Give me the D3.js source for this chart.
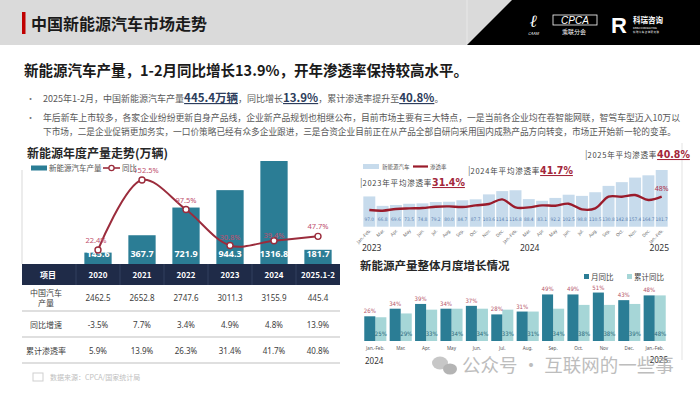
<!DOCTYPE html>
<html>
<head>
<meta charset="utf-8">
<script src="https://cdn.jsdelivr.net/npm/d3@7"></script>
<style>
body{margin:0;background:#fff;}
svg{display:block;font-family:"Noto Sans CJK SC","Noto Sans",sans-serif;}
</style>
</head>
<body>
<script>
// ---- data ----
var annualYears = ["2020", "2021", "2022", "2023", "2024", "2025.1-2"];
var annualOutput = [145.6, 367.7, 721.9, 944.3, 1316.8, 181.7];
var annualGrowth = [22.4, 152.5, 97.5, 30.8, 39.4, 47.7];

var tableRowNames = ["中国汽车产量", "同比增速", "累计渗透率"];
var carOutput = ["2462.5", "2652.8", "2747.6", "3011.3", "3155.9", "445.4"];
var carGrowth = ["-3.5%", "7.7%", "3.4%", "4.9%", "4.8%", "13.9%"];
var carPenetration = ["5.9%", "13.9%", "26.3%", "31.4%", "41.7%", "40.8%"];

var monthNames = ["Jan.-Feb.", "Mar.", "Apr.", "May", "Jun.", "Jul.", "Aug.", "Sep.", "Oct.", "Nov.", "Dec.",
                  "Jan.-Feb.", "Mar.", "Apr.", "May", "Jun.", "Jul.", "Aug.", "Sep.", "Oct.", "Nov.", "Dec.",
                  "Jan.-Feb."];
var monthlyNev = [97.0, 66.8, 69.6, 73.5, 74.8, 79.2, 80.0, 84.7, 87.7, 103.6, 114.1,
                  116.8, 88.4, 83.1, 92.2, 102.5, 98.8, 110.5, 130.8, 142.8, 157.4, 164.7,
                  181.7];
var monthlyPenetration = [26.7, 25.6, 28.3, 29.3, 29.9, 32.0, 32.5, 31.5, 34.1, 36.3, 43.7,
                          30.9, 30.9, 34.1, 33.6, 36.8, 27.7, 29.3, 48.0, 48.0, 50.7, 42.7,
                          48.0];
var avgNotes = [["2023年平均渗透率", "31.4%"], ["2024年平均渗透率", "41.7%"], ["2025年平均渗透率", "40.8%"]];

var growthMonths = ["Jan.-Feb.", "Mar.", "Apr.", "May", "Jun.", "Jul.", "Aug.", "Sep.", "Oct.", "Nov", "Dec.", "Jan.-Feb."];
var monthYoy = [26, 34, 39, 34, 37, 28, 31, 49, 49, 51, 43, 48];
var cumYoy = [25, 29, 33, 34, 34, 33, 31, 34, 38, 38, 39, 48];

var svg = d3.select("body").append("svg")
    .attr("width", 700)
    .attr("height", 394);

// ---- header ----
svg.append("rect").attr("x", 0).attr("y", 0).attr("width", 700).attr("height", 45).attr("fill", "#dadada");
svg.append("line").attr("x1", 467).attr("x2", 467).attr("y1", 0).attr("y2", 45).attr("stroke", "#e8e8e8");
svg.append("polygon").attr("points", "512,0 700,0 700,45 467,45").attr("fill", "#000");
svg.append("rect").attr("x", 22).attr("y", 12).attr("width", 3.5).attr("height", 22).attr("fill", "#c00000");
svg.append("text").attr("x", 31).attr("y", 30)
    .attr("font-size", "16px").attr("font-weight", "bold").attr("fill", "#1a1a1a")
    .text("中国新能源汽车市场走势");

// logos
var logo = svg.append("g").attr("fill", "#fff");
logo.append("text").attr("x", 530).attr("y", 27).attr("font-size", "17px").attr("font-style", "italic")
    .attr("font-weight", "bold").attr("font-family", "DejaVu Serif").text("ℓ");
logo.append("text").attr("x", 528).attr("y", 35).attr("font-size", "4px").attr("font-style", "italic").text("CAAM");
logo.append("rect").attr("x", 553).attr("y", 15).attr("width", 44).attr("height", 10).attr("fill", "none")
    .attr("stroke", "#fff").attr("stroke-width", 0.8);
logo.append("text").attr("x", 575).attr("y", 24).attr("text-anchor", "middle").attr("font-size", "10px")
    .attr("font-style", "italic").attr("font-family", "Liberation Sans").text("CPCA");
logo.append("text").attr("x", 574).attr("y", 34).attr("text-anchor", "middle").attr("font-size", "6px").text("乘联分会");
logo.append("text").attr("x", 611).attr("y", 33).attr("font-size", "22px").attr("font-weight", "bold")
    .attr("font-family", "Liberation Sans").text("R");
logo.append("text").attr("x", 633).attr("y", 23).attr("font-size", "7.5px").attr("font-weight", "bold").text("科瑞咨询");
logo.append("text").attr("x", 633).attr("y", 29).attr("font-size", "2.6px").text("KERUI CONSULTING");
logo.append("text").attr("x", 633).attr("y", 32.5).attr("font-size", "2.4px").text("科 瑞 汽 车 咨 询 研 究 院");

// ---- headline + bullets ----
svg.append("text").attr("x", 24).attr("y", 76)
    .attr("font-size", "15px").attr("font-weight", "bold").attr("fill", "#1a1a1a")
    .attr("textLength", 444).attr("lengthAdjust", "spacingAndGlyphs")
    .text("新能源汽车产量，1-2月同比增长13.9%，开年渗透率保持较高水平。");

svg.selectAll(".bdot").data([102, 121]).enter().append("text")
    .attr("x", 26).attr("y", function(d) { return d; })
    .attr("font-size", "9px").attr("fill", "#777").text("•");

var b1 = svg.append("text").attr("x", 43).attr("y", 102).attr("font-size", "9px").attr("fill", "#595959");
var b1parts = [["2025年1-2月，中国新能源汽车产量", false], ["445.4万辆", true], ["，同比增长", false],
               ["13.9%", true], ["，累计渗透率提升至", false], ["40.8%", true], ["。", false]];
b1parts.forEach(function(p) {
    var t = b1.append("tspan").text(p[0]);
    if (p[1]) {
        t.attr("font-size", "11.5px").attr("font-weight", "bold").attr("fill", "#2d3d5c")
         .attr("text-decoration", "underline");
    }
});

svg.append("text").attr("x", 43).attr("y", 121).attr("font-size", "9px").attr("fill", "#595959")
    .attr("textLength", 637).attr("lengthAdjust", "spacingAndGlyphs")
    .text("年后新车上市较多，各家企业纷纷更新自身产品线，企业新产品规划也相继公布，目前市场主要有三大特点，一是当前各企业均在卷智能网联，智驾车型迈入10万以");
svg.append("text").attr("x", 43).attr("y", 135).attr("font-size", "9px").attr("fill", "#595959")
    .attr("textLength", 633).attr("lengthAdjust", "spacingAndGlyphs")
    .text("下市场，二是企业促销更加务实，一口价策略已经有众多企业跟进，三是合资企业目前正在从产品全部自研向采用国内成熟产品方向转变，市场正开始新一轮的变革。");

// ---- left: annual chart ----
var teal = "#2b7d95";
var lineRed = "#9b2c3c";

svg.append("text").attr("x", 27).attr("y", 158)
    .attr("font-size", "12px").attr("font-weight", "bold").attr("fill", "#262626")
    .text("新能源年度产量走势(万辆)");
svg.append("line").attr("x1", 22).attr("x2", 22).attr("y1", 170).attr("y2", 264).attr("stroke", "#d9d9d9");

var xYear = d3.scaleBand().domain(annualYears).range([76, 340]).paddingInner(0.38).paddingOuter(0.19);
var yOut = d3.scaleLinear().domain([0, 1400]).range([264, 154.5]);
var yGrowth = d3.scaleLinear().domain([0, 160]).range([262, 175.9]);

var left = svg.append("g");
left.selectAll(".abar").data(annualOutput).enter().append("rect")
    .attr("x", function(d, i) { return xYear(annualYears[i]); })
    .attr("y", function(d) { return yOut(d); })
    .attr("width", xYear.bandwidth())
    .attr("height", function(d) { return yOut(0) - yOut(d); })
    .attr("fill", teal);
left.selectAll(".alab").data(annualOutput).enter().append("text")
    .attr("x", function(d, i) { return xYear(annualYears[i]) + xYear.bandwidth() / 2; })
    .attr("y", 257)
    .attr("text-anchor", "middle").attr("font-size", "9px").attr("font-weight", "bold")
    .attr("font-family", "Noto Sans").attr("fill", "#fff")
    .text(function(d) { return d.toFixed(1); });

var growthLine = d3.line()
    .x(function(d, i) { return xYear(annualYears[i]) + xYear.bandwidth() / 2; })
    .y(function(d) { return yGrowth(d); })
    .curve(d3.curveCatmullRom.alpha(0.5));
left.append("path").datum(annualGrowth).attr("d", growthLine)
    .attr("fill", "none").attr("stroke", lineRed).attr("stroke-width", 2);
left.selectAll(".gdot").data(annualGrowth).enter().append("circle")
    .attr("cx", function(d, i) { return xYear(annualYears[i]) + xYear.bandwidth() / 2; })
    .attr("cy", function(d) { return yGrowth(d); })
    .attr("r", 3).attr("fill", "#fff").attr("stroke", lineRed).attr("stroke-width", 1.4);
var gOff = [-7, -7, -7, -5, -3, -7];
var gDx = [-2, 4, 0, 0, 0, 0];
left.selectAll(".glab").data(annualGrowth).enter().append("text")
    .attr("x", function(d, i) { return xYear(annualYears[i]) + xYear.bandwidth() / 2 + gDx[i]; })
    .attr("y", function(d, i) { return yGrowth(d) + gOff[i]; })
    .attr("text-anchor", "middle").attr("font-size", "7.5px").attr("font-family", "Noto Sans")
    .attr("fill", "#c0506e")
    .text(function(d) { return d.toFixed(1) + "%"; });

// legend
svg.append("rect").attr("x", 31).attr("y", 165.5).attr("width", 16).attr("height", 5).attr("fill", teal);
svg.append("text").attr("x", 49).attr("y", 171).attr("font-size", "7.5px").attr("fill", "#555").text("新能源汽车产量");
svg.append("line").attr("x1", 103).attr("x2", 120).attr("y1", 168).attr("y2", 168).attr("stroke", lineRed).attr("stroke-width", 1.6);
svg.append("circle").attr("cx", 111.5).attr("cy", 168).attr("r", 2.6).attr("fill", "#fff").attr("stroke", lineRed).attr("stroke-width", 1.3);
svg.append("text").attr("x", 122).attr("y", 171).attr("font-size", "7.5px").attr("fill", "#555").text("同比");

// ---- table ----
var tbl = svg.append("g");
tbl.append("rect").attr("x", 22).attr("y", 264).attr("width", 318).attr("height", 21).attr("fill", "#1f2b48");
tbl.selectAll(".hsep").data(annualYears).enter().append("line")
    .attr("x1", function(d) { return xYear(d) - xYear.step() * 0.19; })
    .attr("x2", function(d) { return xYear(d) - xYear.step() * 0.19; })
    .attr("y1", 264).attr("y2", 285).attr("stroke", "#33415f");
tbl.append("text").attr("x", 48).attr("y", 278).attr("text-anchor", "middle")
    .attr("font-size", "8px").attr("font-weight", "bold").attr("fill", "#fff").text("项目");
tbl.selectAll(".hyear").data(annualYears).enter().append("text")
    .attr("x", function(d) { return xYear(d) + xYear.bandwidth() / 2; })
    .attr("y", 278).attr("text-anchor", "middle")
    .attr("font-size", "8px").attr("font-weight", "bold").attr("fill", "#fff")
    .text(function(d) { return d; });

var rowBase = [301, 328, 354];
var rowVals = [carOutput, carGrowth, carPenetration];
[311, 337, 363].forEach(function(y) {
    tbl.append("line").attr("x1", 22).attr("x2", 340).attr("y1", y).attr("y2", y).attr("stroke", "#bfbfbf");
});
tbl.append("text").attr("x", 46).attr("y", 296).attr("text-anchor", "middle").attr("font-size", "8px").attr("fill", "#404040").text("中国汽车");
tbl.append("text").attr("x", 46).attr("y", 306).attr("text-anchor", "middle").attr("font-size", "8px").attr("fill", "#404040").text("产量");
tbl.append("text").attr("x", 46).attr("y", rowBase[1]).attr("text-anchor", "middle").attr("font-size", "8px").attr("fill", "#404040").text(tableRowNames[1]);
tbl.append("text").attr("x", 46).attr("y", rowBase[2]).attr("text-anchor", "middle").attr("font-size", "8px").attr("fill", "#404040").text(tableRowNames[2]);
rowVals.forEach(function(vals, r) {
    tbl.selectAll(".cell" + r).data(vals).enter().append("text")
        .attr("x", function(d, i) { return xYear(annualYears[i]) + xYear.bandwidth() / 2; })
        .attr("y", rowBase[r]).attr("text-anchor", "middle")
        .attr("font-size", "8px").attr("font-family", "Noto Sans").attr("fill", "#404040")
        .text(function(d) { return d; });
});

svg.append("rect").attr("x", 33).attr("y", 373).attr("width", 10).attr("height", 8).attr("fill", "none").attr("stroke", "#cfcfcf");
svg.append("text").attr("x", 50).attr("y", 380).attr("font-size", "7px").attr("fill", "#c0c0c0").text("数据来源：CPCA/国家统计局");

// ---- right top: monthly output + penetration ----
svg.append("line").attr("x1", 682).attr("x2", 682).attr("y1", 143).attr("y2", 360).attr("stroke", "#e3e3e3");

var xMon = d3.scaleBand().domain(d3.range(monthlyNev.length)).range([362, 669]).padding(0.1);
var yNev = d3.scaleLinear().domain([0, 200]).range([226.7, 164.3]);
var yPen = d3.scaleLinear().domain([0, 100]).range([226.7, 164.2]);

var rt = svg.append("g");
rt.selectAll(".mbar").data(monthlyNev).enter().append("rect")
    .attr("x", function(d, i) { return xMon(i); })
    .attr("y", function(d) { return yNev(d); })
    .attr("width", xMon.bandwidth())
    .attr("height", function(d) { return yNev(0) - yNev(d); })
    .attr("fill", "#c7dbec");
rt.selectAll(".mlab").data(monthlyNev).enter().append("text")
    .attr("x", function(d, i) { return xMon(i) + xMon.bandwidth() / 2; })
    .attr("y", 221).attr("text-anchor", "middle")
    .attr("font-size", "4.8px").attr("font-family", "DejaVu Sans Condensed").attr("fill", "#5a80b0")
    .text(function(d) { return d.toFixed(1); });
var penLine = d3.line()
    .x(function(d, i) { return xMon(i) + xMon.bandwidth() / 2; })
    .y(function(d) { return yPen(d); })
    .curve(d3.curveCatmullRom.alpha(0.5));
rt.append("path").datum(monthlyPenetration).attr("d", penLine)
    .attr("fill", "none").attr("stroke", "#9a1b2b").attr("stroke-width", 2.4);
rt.selectAll(".mx").data(monthNames).enter().append("text")
    .attr("transform", function(d, i) {
        return "translate(" + (xMon(i) + xMon.bandwidth() / 2 + 2) + ",231)rotate(-45)";
    })
    .attr("text-anchor", "end").attr("font-size", "4.5px").attr("font-family", "Noto Sans").attr("fill", "#666")
    .text(function(d) { return d; });
rt.append("text").attr("x", 362).attr("y", 251).attr("font-size", "8.5px").attr("font-family", "Noto Sans").attr("fill", "#333").text("2023");
rt.append("text").attr("x", 520).attr("y", 251).attr("font-size", "8.5px").attr("font-family", "Noto Sans").attr("fill", "#333").text("2024");
rt.append("text").attr("x", 669).attr("y", 251).attr("text-anchor", "end").attr("font-size", "8.5px").attr("font-family", "Noto Sans").attr("fill", "#333").text("2025");
rt.append("text")
    .attr("x", xMon(monthlyPenetration.length - 1) + xMon.bandwidth() / 2)
    .attr("y", yPen(monthlyPenetration[monthlyPenetration.length - 1]) - 6)
    .attr("text-anchor", "middle").attr("font-size", "7px").attr("font-family", "Noto Sans").attr("fill", "#b0304a")
    .text(monthlyPenetration[monthlyPenetration.length - 1].toFixed(0) + "%");

// legend
rt.append("rect").attr("x", 363).attr("y", 164).attr("width", 16).attr("height", 5).attr("fill", "#c7dbec");
rt.append("text").attr("x", 382).attr("y", 168.5).attr("font-size", "5.5px").attr("fill", "#555").text("新能源汽车");
rt.append("line").attr("x1", 413).attr("x2", 428).attr("y1", 166.5).attr("y2", 166.5).attr("stroke", "#9a1b2b").attr("stroke-width", 2.2);
rt.append("text").attr("x", 430).attr("y", 168.5).attr("font-size", "5.5px").attr("fill", "#555").text("渗透率");

// average notes
var notePos = [[360, 186], [468, 174], [585, 158]];
avgNotes.forEach(function(n, i) {
    var t = rt.append("text").attr("x", notePos[i][0]).attr("y", notePos[i][1])
        .attr("font-size", "7.5px").attr("fill", "#444");
    t.append("tspan").attr("font-size", "9px").attr("fill", "#666").text("|");
    t.append("tspan").attr("letter-spacing", "0.8px").text(n[0]);
    t.append("tspan").attr("font-size", "10.5px").attr("font-weight", "bold")
        .attr("font-family", "DejaVu Sans Condensed").attr("fill", "#a3263a")
        .attr("text-decoration", "underline").text(n[1]);
});

// ---- right bottom: monthly growth ----
svg.append("text").attr("x", 360).attr("y", 270)
    .attr("font-size", "11.5px").attr("font-weight", "bold").attr("fill", "#262626")
    .text("新能源产量整体月度增长情况");

var xG = d3.scaleBand().domain(d3.range(growthMonths.length)).range([363, 667]).paddingInner(0.13).paddingOuter(0.05);
var xSub = d3.scaleBand().domain([0, 1]).range([0, xG.bandwidth()]);
var yG = d3.scaleLinear().domain([0, 100]).range([341, 246]);
var lightTeal = "#a6d6d7";

var rb = svg.append("g");
rb.selectAll(".cbar").data(cumYoy).enter().append("rect")
    .attr("x", function(d, i) { return xG(i) + xSub(1); })
    .attr("y", function(d) { return yG(d); })
    .attr("width", xSub.bandwidth())
    .attr("height", function(d) { return yG(0) - yG(d); })
    .attr("fill", lightTeal);
rb.selectAll(".mbar2").data(monthYoy).enter().append("rect")
    .attr("x", function(d, i) { return xG(i) + xSub(0); })
    .attr("y", function(d) { return yG(d); })
    .attr("width", xSub.bandwidth())
    .attr("height", function(d) { return yG(0) - yG(d); })
    .attr("fill", teal);
rb.selectAll(".mylab").data(monthYoy).enter().append("text")
    .attr("x", function(d, i) { return xG(i) + xSub(0) + xSub.bandwidth() / 2; })
    .attr("y", function(d) { return yG(d) - 3; })
    .attr("text-anchor", "middle").attr("font-size", "6px").attr("font-family", "DejaVu Sans Condensed")
    .attr("fill", "#b5566a")
    .text(function(d) { return d + "%"; });
rb.selectAll(".cylab").data(cumYoy).enter().append("text")
    .attr("x", function(d, i) { return xG(i) + xSub(1) + xSub.bandwidth() / 2; })
    .attr("y", 336).attr("text-anchor", "middle").attr("font-size", "6px").attr("font-family", "DejaVu Sans Condensed")
    .attr("fill", "#2a6a7c")
    .text(function(d) { return d + "%"; });
rb.selectAll(".gx").data(growthMonths).enter().append("text")
    .attr("x", function(d, i) { return xG(i) + xG.bandwidth() / 2; })
    .attr("y", 350).attr("text-anchor", "middle")
    .attr("font-size", "4.6px").attr("font-family", "Noto Sans").attr("fill", "#555")
    .text(function(d) { return d; });
rb.append("text").attr("x", 365).attr("y", 364).attr("font-size", "8px").attr("font-family", "Noto Sans").attr("fill", "#333").text("2024");
rb.append("text").attr("x", 668).attr("y", 363).attr("text-anchor", "end").attr("font-size", "8px").attr("font-family", "Noto Sans").attr("fill", "#333").text("2025");

rb.append("rect").attr("x", 584).attr("y", 274).attr("width", 5).attr("height", 5).attr("fill", teal);
rb.append("text").attr("x", 591).attr("y", 279.5).attr("font-size", "7.5px").attr("fill", "#444").text("月同比");
rb.append("rect").attr("x", 627).attr("y", 274).attr("width", 5).attr("height", 5).attr("fill", lightTeal);
rb.append("text").attr("x", 634).attr("y", 279.5).attr("font-size", "7.5px").attr("fill", "#444").text("累计同比");

// ---- watermark ----
var wm = svg.append("g").attr("opacity", 0.75);
wm.append("ellipse").attr("cx", 440).attr("cy", 363).attr("rx", 8).attr("ry", 6.5).attr("fill", "#b5b5b5");
wm.append("ellipse").attr("cx", 450).attr("cy", 369).attr("rx", 7).attr("ry", 5.5).attr("fill", "#9c9c9c");
wm.append("text").attr("x", 462).attr("y", 372)
    .attr("font-size", "18.5px").attr("fill", "#a8a8a8")
    .text("公众号 · 互联网的一些事");
</script>
</body>
</html>
